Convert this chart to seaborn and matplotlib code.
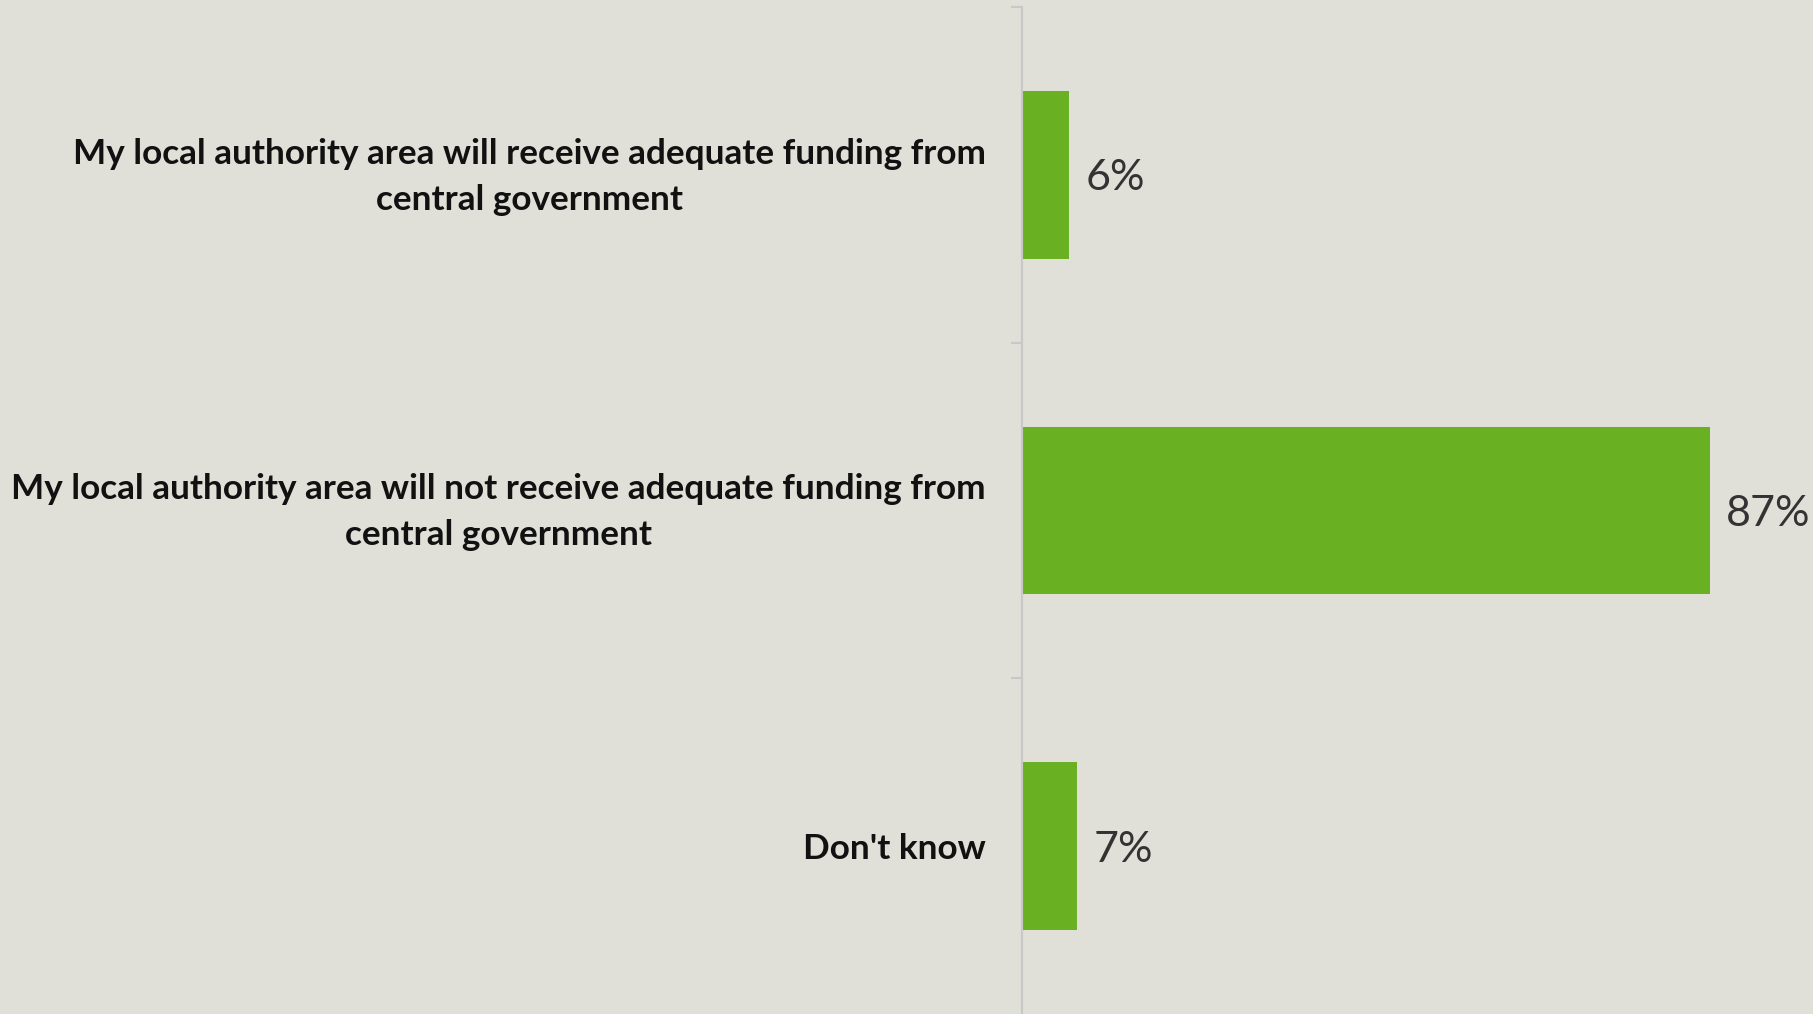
"""Survey bar chart: expectations of central government funding."""

import pandas as pd
import matplotlib.pyplot as plt
import matplotlib.transforms as mtrans
import seaborn as sns

categories = [
    'My local authority area will receive adequate funding from\ncentral government',
    'My local authority area will not receive adequate funding from\ncentral government',
    "Don't know",
]
values = [6, 87, 7]
value_labels = ['6%', '87%', '7%']

BG = '#E0E0D8'
GREEN = '#6AB023'
AXIS = '#C8C8C8'

df = pd.DataFrame({'answer': categories, 'pct': values})

sns.set_theme(style='white')
plt.rcParams['font.family'] = ['Lato', 'DejaVu Sans']

fig = plt.figure(figsize=(18.13, 10.14), dpi=100, facecolor=BG)
ax = fig.add_axes([1022 / 1813, 0, 1 - 1022 / 1813, 1 - 7 / 1014])
ax.set_facecolor(BG)

sns.barplot(data=df, x='pct', y='answer', color=GREEN, width=0.5,
            saturation=1, edgecolor=GREEN, linewidth=0, ax=ax)

ax.set_xlim(0, 100)
ax.set_ylim(2.5, -0.5)
ax.set_xlabel('')
ax.set_ylabel('')
ax.set_xticks([])

# label text on major ticks, tick marks at band boundaries
ax.set_yticks(range(len(categories)))
ax.set_yticklabels(categories, fontsize=25.3, fontweight='bold', color='#111111',
                   multialignment='center', linespacing=1.55)
ax.tick_params(axis='y', which='major', length=0, pad=26)
ax.set_yticks([-0.5, 0.5, 1.5], minor=True)
ax.tick_params(axis='y', which='minor', length=8, width=1.5, color=AXIS, left=True)

# two-line labels sit a bit low, nudge them up
nudge = mtrans.ScaledTranslation(0, 6 / 72, fig.dpi_scale_trans)
for lbl in ax.get_yticklabels():
    if '\n' in lbl.get_text():
        lbl.set_transform(lbl.get_transform() + nudge)

for side in ['top', 'right', 'bottom']:
    ax.spines[side].set_visible(False)
ax.spines['left'].set_color(AXIS)
ax.spines['left'].set_linewidth(1.5)

for i, (v, lab) in enumerate(zip(values, value_labels)):
    ax.text(v + 2, i, lab, va='center_baseline', ha='left', fontsize=31,
            color='#333333')

fig.savefig('out.png', dpi=100, facecolor=BG)
